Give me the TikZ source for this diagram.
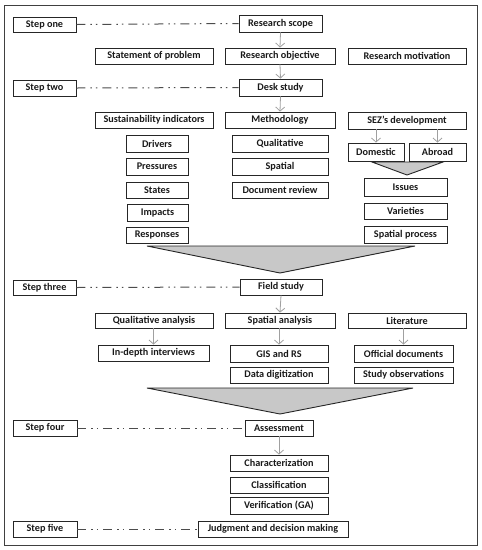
\documentclass[tikz,border=0pt]{standalone}
\usepackage{fontspec}
\setmainfont{Carlito}
\usetikzlibrary{arrows.meta}
\definecolor{frame}{HTML}{404040}
\definecolor{arr}{HTML}{A0A0A0}
\definecolor{tri}{HTML}{C8C8C8}
\tikzset{
  bx/.style={draw=black!85, line width=0.9pt, inner sep=0pt, font=\fontsize{10.2}{12}\selectfont\bfseries, text=black!90},
  arrw/.style={draw=arr, line width=0.8pt, -{Straight Barb[length=4pt,width=9pt]}},
  ddot/.style={draw=black!70, line width=1pt, dash pattern=on 9pt off 5pt on 1.5pt off 4pt on 1.5pt off 5pt},
  tribox/.style={draw=black!85, line width=0.9pt, fill=tri},
}
\newcommand\bx[6]{\node[bx, minimum width={(#4-#2)*1pt}, minimum height={(#5-#3)*1pt}] (#1) at ({(#2+#4)/2},{(#3+#5)/2}) {#6};}
\begin{document}
\begin{tikzpicture}[x=1pt,y=-1pt]
\useasboundingbox (0,0) rectangle (482,550);
\draw[draw=frame, line width=1pt] (4,5) rectangle (477,545);
\bx{s1}{13}{17}{76}{32}{Step one}
\bx{rs}{239}{15}{322}{32}{Research scope}
\bx{sp}{95}{48}{213}{64}{Statement of problem}
\bx{ro}{225}{48}{335}{64}{Research objective}
\bx{rm}{348}{48}{466}{64}{Research motivation}
\bx{s2}{13}{80}{76}{96}{Step two}
\bx{ds}{239}{79}{322}{96}{Desk study}
\bx{si}{95}{112}{213}{128}{Sustainability indicators}
\bx{me}{225}{112}{335}{128}{Methodology}
\bx{sez}{348}{112}{466}{129}{SEZ’s development}
\bx{dr}{126}{135}{188}{152}{Drivers}
\bx{pr}{126}{158}{188}{175}{Pressures}
\bx{st}{126}{182}{188}{198}{States}
\bx{im}{127}{204}{188}{221}{Impacts}
\bx{re}{126}{227}{188}{243}{Responses}
\bx{ql}{232}{135}{328}{152}{Qualitative}
\bx{spt}{232}{158}{328}{175}{Spatial}
\bx{dor}{232}{182}{328}{198}{Document review}
\bx{dom}{348}{143}{404}{161}{Domestic}
\bx{abr}{409}{143}{466}{161}{Abroad}
\bx{iss}{364}{178}{447}{196}{Issues}
\bx{var}{364}{203}{447}{219}{Varieties}
\bx{spp}{364}{226}{447}{243}{Spatial process}
\bx{s3}{13}{280}{76}{295}{Step three}
\bx{fs}{240}{279}{322}{295}{Field study}
\bx{qa}{95}{313}{213}{328}{Qualitative analysis}
\bx{sa}{225}{313}{335}{328}{Spatial analysis}
\bx{lit}{348}{313}{466}{328}{Literature}
\bx{idi}{98}{345}{209}{361}{In-depth interviews}
\bx{gis}{230}{345}{328}{362}{GIS and RS}
\bx{od}{354}{345}{453}{362}{Official documents}
\bx{dd}{230}{367}{328}{383}{Data digitization}
\bx{so}{354}{367}{453}{383}{Study observations}
\bx{s4}{13}{420}{77}{436}{Step four}
\bx{as}{245}{420}{313}{436}{Assessment}
\bx{ch}{230}{455}{328}{471}{Characterization}
\bx{cl}{230}{477}{328}{493}{Classification}
\bx{ve}{230}{497}{328}{514}{Verification (GA)}
\bx{s5}{13}{521}{77}{537}{Step five}
\bx{jd}{198}{521}{348}{537}{Judgment and decision making}
% dash-dot links
\draw[ddot] (s1.east) -- (rs.west);
\draw[ddot] (s2.east) -- (ds.west);
\draw[ddot] (s3.east) -- (fs.west);
\draw[ddot] (s4.east) -- (as.west);
\draw[ddot] (s5.east) -- (jd.west);
% arrows
\draw[arrw] (rs.south) -- (ro.north);
\draw[arrw] (ro.south) -- (ds.north);
\draw[arrw] (ds.south) -- (me.north);
\draw[arrw] (sez.south -| dom.north) -- (dom.north);
\draw[arrw] (sez.south -| abr.north) -- (abr.north);
\draw[arrw] (fs.south) -- (sa.north);
\draw[arrw] (qa.south -| idi.north) -- (idi.north);
\draw[arrw] (sa.south -| gis.north) -- (gis.north);
\draw[arrw] (lit.south -| od.north) -- (od.north);
\draw[arrw] (as.south -| ch.north) -- (ch.north);
% funnels
\draw[tribox] (372,162) -- (443,162) -- (407,175) -- cycle;
\draw[tribox] (147,246) -- (415,246) -- (280,273) -- cycle;
\draw[tribox] (147,388) -- (413,388) -- (280,414) -- cycle;
\end{tikzpicture}
\end{document}
